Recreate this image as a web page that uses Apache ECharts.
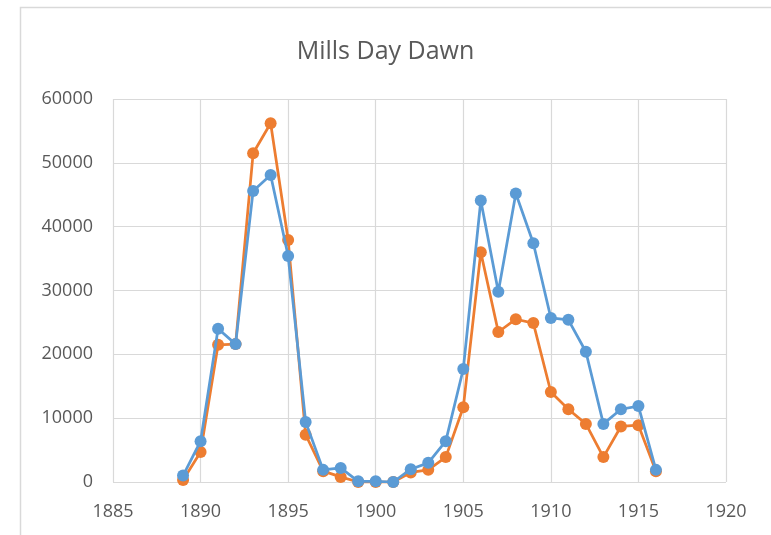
<!DOCTYPE html>
<html>
<head>
<meta charset="utf-8">
<style>
  html, body { margin: 0; padding: 0; background: #ffffff; }
  #chart { width: 771px; height: 535px; }
</style>
<script src="https://cdn.jsdelivr.net/npm/echarts@6/dist/echarts.min.js"></script>
</head>
<body>
<div id="chart"></div>
<script>
// Years on the horizontal axis
const years = [1889, 1890, 1891, 1892, 1893, 1894, 1895, 1896, 1897, 1898,
               1899, 1900, 1901, 1902, 1903, 1904, 1905, 1906, 1907, 1908,
               1909, 1910, 1911, 1912, 1913, 1914, 1915, 1916];

// Blue series
const blueValues = [1000, 6400, 24000, 21600, 45600, 48100, 35400, 9400, 1900, 2200,
                    100, 100, 0, 2000, 3000, 6400, 17700, 44100, 29800, 45200,
                    37400, 25700, 25400, 20400, 9100, 11400, 11900, 1900];

// Orange series
const orangeValues = [300, 4700, 21500, 21600, 51500, 56200, 37900, 7400, 1700, 800,
                      0, 0, 0, 1500, 1900, 3900, 11700, 36000, 23500, 25500,
                      24900, 14100, 11400, 9100, 3900, 8700, 8900, 1700];

const xTicks = { min: 1885, max: 1920, step: 5 };
const yTicks = { min: 0, max: 60000, step: 10000 };

const pairs = vals => years.map((y, i) => [y, vals[i]]);
const plain = v => String(v);

const textColor = '#595959';
const gridColor = '#d9d9d9';
const font = '"Open Sans", "Liberation Sans", sans-serif';

const chart = echarts.init(document.getElementById('chart'));
chart.setOption({
  animation: false,
  backgroundColor: '#ffffff',
  title: {
    text: 'Mills Day Dawn',
    left: 'center',
    top: 34,
    textStyle: { color: textColor, fontFamily: font, fontSize: 25, fontWeight: 'normal' }
  },
  graphic: [{
    type: 'rect',
    shape: { x: 20.5, y: 7.5, width: 800, height: 600 },
    style: { fill: 'none', stroke: gridColor, lineWidth: 1.5 },
    silent: true
  }],
  grid: { left: 113, right: 45, top: 99, bottom: 53 },
  xAxis: {
    type: 'value',
    min: xTicks.min,
    max: xTicks.max,
    interval: xTicks.step,
    axisLine: { show: false },
    axisTick: { show: false },
    axisLabel: { color: textColor, fontFamily: font, fontSize: 18, margin: 21, formatter: plain },
    splitLine: { show: true, lineStyle: { color: gridColor, width: 1.2 } }
  },
  yAxis: {
    type: 'value',
    min: yTicks.min,
    max: yTicks.max,
    interval: yTicks.step,
    axisLine: { show: false },
    axisTick: { show: false },
    axisLabel: { color: textColor, fontFamily: font, fontSize: 18, margin: 20, formatter: plain },
    splitLine: { show: true, lineStyle: { color: gridColor, width: 1.2 } }
  },
  series: [
    {
      name: 'Orange',
      type: 'line',
      data: pairs(orangeValues),
      symbol: 'circle',
      symbolSize: 12,
      itemStyle: { color: '#ED7D31' },
      lineStyle: { color: '#ED7D31', width: 2.75 },
      z: 2
    },
    {
      name: 'Blue',
      type: 'line',
      data: pairs(blueValues),
      symbol: 'circle',
      symbolSize: 12,
      itemStyle: { color: '#5B9BD5' },
      lineStyle: { color: '#5B9BD5', width: 2.75 },
      z: 3
    }
  ]
});
</script>
</body>
</html>
